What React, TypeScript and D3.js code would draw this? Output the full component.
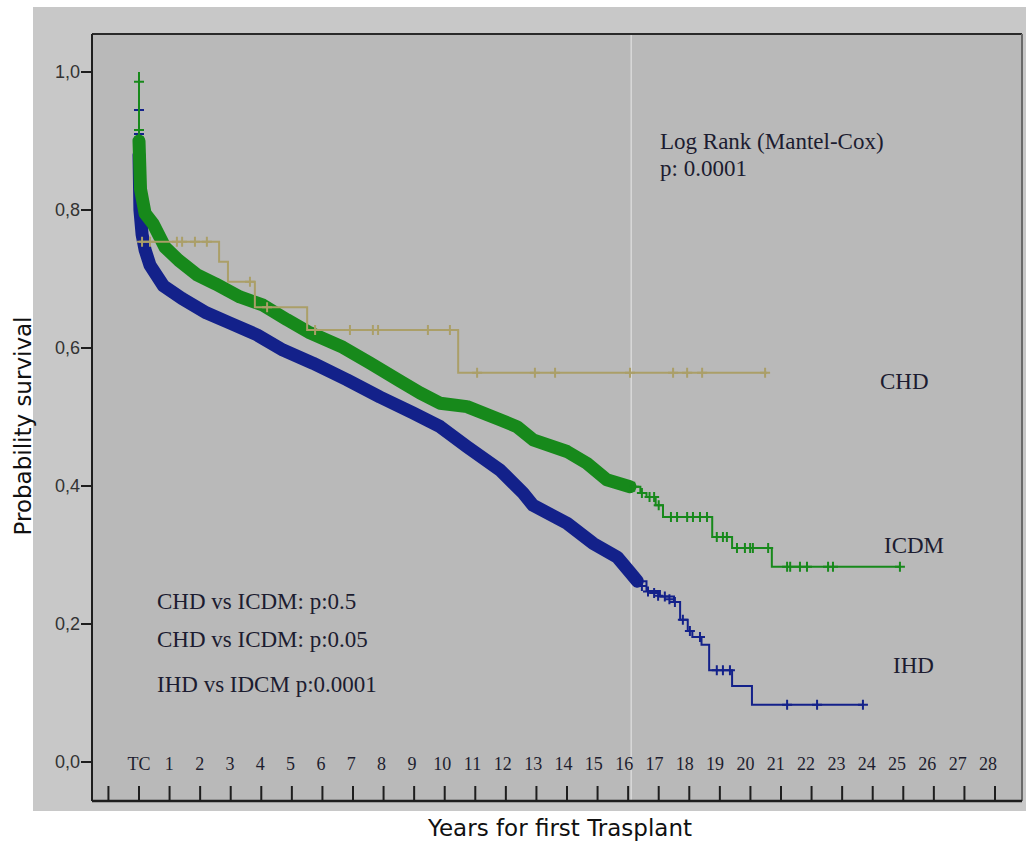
import React from 'react';
import * as d3 from 'd3';

// ---- data (years, survival probability) ----
const xTickLabels = ['TC', '1', '2', '3', '4', '5', '6', '7', '8', '9', '10', '11', '12', '13', '14',
  '15', '16', '17', '18', '19', '20', '21', '22', '23', '24', '25', '26', '27', '28'];
const yTicks = [0, 0.2, 0.4, 0.6, 0.8, 1.0];
const yTickLabels = ['0,0', '0,2', '0,4', '0,6', '0,8', '1,0'];

// IHD (blue)
const ihdDrop = [[0, 1.0], [0, 0.88]];
const ihdBand = [[0, 0.88], [0.03, 0.8], [0.1, 0.765], [0.2, 0.742], [0.36, 0.72], [0.8, 0.69], [1.4, 0.672],
  [2.2, 0.651], [2.98, 0.636], [3.86, 0.619], [4.71, 0.597], [5.69, 0.578], [6.8, 0.554], [7.88, 0.529],
  [8.96, 0.506], [9.85, 0.486], [10.73, 0.457], [11.81, 0.423], [12.56, 0.39], [12.89, 0.372], [14.0, 0.346],
  [14.85, 0.317], [15.64, 0.297], [16.06, 0.275], [16.3, 0.262]];
const ihdTail = [[16.3, 0.262], [16.6, 0.248], [17.04, 0.24], [17.5, 0.232], [17.7, 0.206], [17.95, 0.19],
  [18.1, 0.181], [18.4, 0.17], [18.65, 0.133], [19.4, 0.11], [20.05, 0.083], [23.68, 0.083]];
const ihdCensor = [[0, 0.945], [0, 0.91], [0, 0.89], [16.29, 0.262], [16.45, 0.255], [16.65, 0.247],
  [16.85, 0.245], [16.98, 0.241], [17.2, 0.24], [17.35, 0.236], [17.53, 0.232], [17.79, 0.206],
  [18.02, 0.19], [18.35, 0.181], [18.9, 0.133], [19.1, 0.133], [19.33, 0.133], [21.2, 0.083],
  [22.18, 0.083], [23.68, 0.083]];

// ICDM (green)
const icdmDrop = [[0, 1.0], [0, 0.9]];
const icdmBand = [[0, 0.9], [0.05, 0.83], [0.2, 0.795], [0.46, 0.78], [0.85, 0.746], [1.3, 0.727],
  [1.9, 0.706], [2.5, 0.693], [3.3, 0.674], [4.06, 0.662], [4.84, 0.641], [5.59, 0.622], [6.67, 0.601],
  [7.56, 0.578], [8.54, 0.552], [9.19, 0.535], [9.85, 0.52], [10.73, 0.515], [11.81, 0.496], [12.36, 0.486],
  [12.89, 0.467], [14.0, 0.45], [14.65, 0.433], [15.3, 0.409], [16.06, 0.399]];
const icdmTail = [[16.06, 0.399], [16.4, 0.39], [16.6, 0.384], [16.9, 0.372], [17.14, 0.355], [18.75, 0.326],
  [19.4, 0.31], [20.7, 0.283], [24.9, 0.283]];
const icdmCensor = [[0, 0.986], [0, 0.916], [0, 0.905], [16.2, 0.399], [16.45, 0.39], [16.7, 0.384],
  [16.85, 0.384], [17.0, 0.372], [17.4, 0.355], [17.6, 0.355], [17.93, 0.355], [18.12, 0.355],
  [18.35, 0.355], [18.58, 0.355], [18.9, 0.326], [19.1, 0.326], [19.23, 0.326], [19.56, 0.31],
  [19.82, 0.31], [19.99, 0.31], [20.08, 0.31], [20.58, 0.31], [21.2, 0.283], [21.3, 0.283],
  [21.62, 0.283], [21.85, 0.283], [22.54, 0.283], [22.7, 0.283], [24.89, 0.283]];

// CHD (khaki)
const chdDrop = [[0, 1.0], [0, 0.754]];
const chdTail = [[0, 0.754], [2.62, 0.725], [2.91, 0.696], [3.79, 0.659], [5.5, 0.626], [10.44, 0.564],
  [20.54, 0.564]];
const chdCensor = [[0.1, 0.754], [0.36, 0.754], [1.24, 0.754], [1.41, 0.754], [1.83, 0.754], [2.22, 0.754],
  [3.63, 0.696], [4.19, 0.659], [5.76, 0.626], [6.9, 0.626], [7.65, 0.626], [7.82, 0.626], [9.45, 0.626],
  [10.17, 0.626], [11.06, 0.564], [12.95, 0.564], [13.61, 0.564], [16.06, 0.564], [17.47, 0.564],
  [17.93, 0.564], [18.42, 0.564], [20.48, 0.564]];

const seamYear = 16.1;

const statLines = ['CHD vs ICDM: p:0.5', 'CHD vs ICDM: p:0.05', 'IHD vs IDCM p:0.0001'];

const BLUE = '#13218a';
const GREEN = '#17891b';
const KHAKI = '#ab9f68';

const series = [
  { name: 'IHD', color: BLUE, drop: ihdDrop, band: ihdBand, tail: ihdTail, censor: ihdCensor },
  { name: 'ICDM', color: GREEN, drop: icdmDrop, band: icdmBand, tail: icdmTail, censor: icdmCensor },
  { name: 'CHD', color: KHAKI, drop: null, band: null, tail: chdTail, censor: chdCensor },
];

const serif = '"Liberation Serif", "Times New Roman", serif';
const sans = '"DejaVu Sans", sans-serif';

export default function App() {
  const x = d3.scaleLinear().domain([0, 28]).range([139, 995]);
  const xLab = d3.scaleLinear().domain([0, 28]).range([139, 988]);
  const y = d3.scaleLinear().domain([0, 1]).range([762, 72]);

  const lin = d3.line<number[]>().x(d => x(d[0])).y(d => y(d[1]));
  const step = d3.line<number[]>().x(d => x(d[0])).y(d => y(d[1])).curve(d3.curveStepAfter);

  const tickIdx = [-1, ...xTickLabels.map((_, i) => i)];
  const cross = (t: number, s: number, r = 5) =>
    `M${x(t) - r},${y(s)}h${2 * r}M${x(t)},${y(s) - r}v${2 * r}`;

  return (
    <svg width={1028} height={841} style={{ position: 'absolute', left: 0, top: 0, background: '#fff' }}>
      <rect x={33} y={7} width={993} height={804} fill="#c8c8c8" />
      <rect x={92} y={34} width={930} height={767} fill="#b9b9b9" />
      {/* seam line */}
      <line x1={x(seamYear)} x2={x(seamYear)} y1={34} y2={801} stroke="#d9d9d9" strokeWidth={1.5} />

      {/* frame */}
      <line x1={92} x2={1022} y1={34} y2={34} stroke="#2a2a2a" strokeWidth={2} />
      <line x1={1022} x2={1022} y1={34} y2={801} stroke="#6a6a6a" strokeWidth={2} />
      <line x1={92} x2={92} y1={34} y2={801} stroke="#1e1e1e" strokeWidth={2} />
      <line x1={92} x2={1022} y1={801} y2={801} stroke="#1e1e1e" strokeWidth={2.5} />

      {/* y axis */}
      {yTicks.map((v, i) => (
        <g key={v}>
          <line x1={81} x2={92} y1={y(v)} y2={y(v)} stroke="#1e1e1e" strokeWidth={2} />
          <text x={80} y={y(v) + 6} textAnchor="end" fontFamily={'"Liberation Sans", Arial, sans-serif'}
            fontSize={18} fill="#333">{yTickLabels[i]}</text>
        </g>
      ))}

      {/* x axis */}
      {tickIdx.map(i => (
        <line key={i} x1={x(i)} x2={x(i)} y1={786} y2={801} stroke="#1e1e1e" strokeWidth={2} />
      ))}
      {xTickLabels.map((l, i) => (
        <text key={l} x={xLab(i)} y={770} textAnchor="middle" fontFamily={serif} fontSize={18}
          fill="#1d1d2e">{l}</text>
      ))}

      {/* CHD initial drop sits underneath the other curves */}
      <path d={lin(chdDrop) || ''} fill="none" stroke={KHAKI} strokeWidth={2} />

      {/* curves */}
      {series.map(s => (
        <g key={s.name} fill="none" stroke={s.color}>
          {s.drop && <path d={lin(s.drop) || ''} strokeWidth={2} />}
          {s.band && <path d={lin(s.band) || ''} strokeWidth={13} strokeLinejoin="round" strokeLinecap="round" />}
          <path d={step(s.tail) || ''} strokeWidth={2} />
          <path d={s.censor.map(c => cross(c[0], c[1])).join('')} strokeWidth={2} />
        </g>
      ))}

      {/* annotations */}
      <text x={660} y={149} fontFamily={serif} fontSize={23} fill="#1c1c30">Log Rank (Mantel-Cox)</text>
      <text x={660} y={176} fontFamily={serif} fontSize={23} fill="#1c1c30">p: 0.0001</text>

      <text x={880} y={389} fontFamily={serif} fontSize={23} fill="#1c1c30">CHD</text>
      <text x={884} y={553} fontFamily={serif} fontSize={23} fill="#1c1c30">ICDM</text>
      <text x={893} y={673} fontFamily={serif} fontSize={23} fill="#1c1c30">IHD</text>

      {statLines.map((t, i) => (
        <text key={i} x={157} y={[609, 647, 692][i]} fontFamily={serif} fontSize={23} fill="#1c1c30">{t}</text>
      ))}

      {/* axis titles */}
      <text x={560} y={836} textAnchor="middle" fontFamily={sans} fontSize={23} fill="#111">Years for first Trasplant</text>
      <text transform="translate(31,426) rotate(-90)" textAnchor="middle" fontFamily={sans} fontSize={23}
        fill="#111">Probability survival</text>
    </svg>
  );
}
